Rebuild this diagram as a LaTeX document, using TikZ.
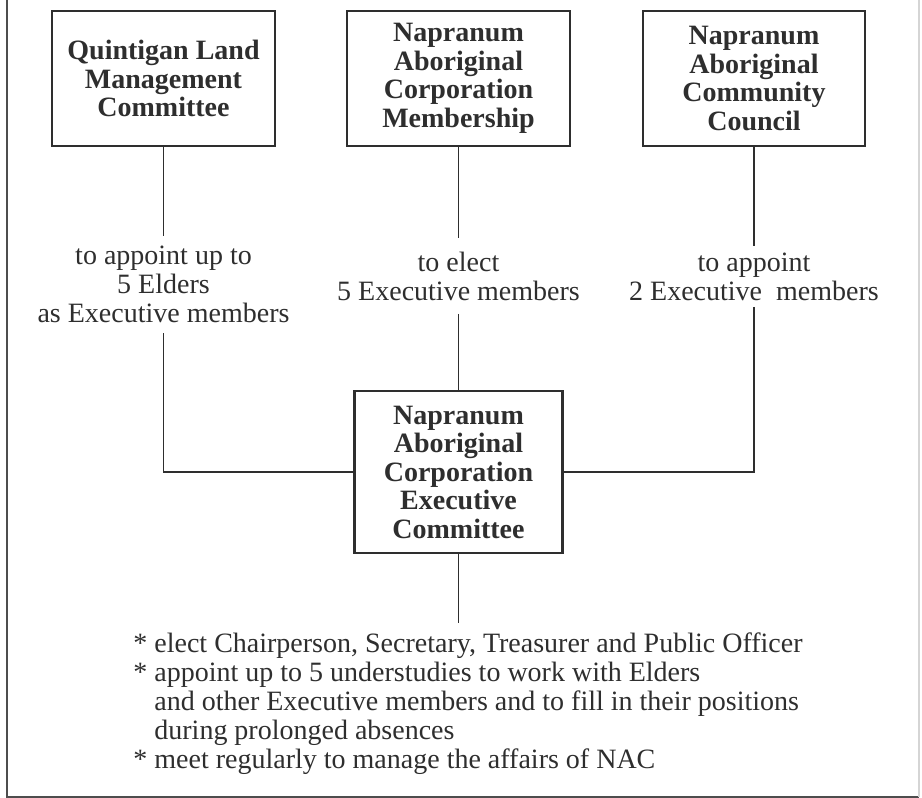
\documentclass[tikz,border=0pt]{standalone}
\usepackage{fontspec}
\setmainfont{Liberation Serif}
\usetikzlibrary{positioning}
\definecolor{ink}{HTML}{2E2E2E}

\begin{document}
\begin{tikzpicture}[x=0.5pt, y=-0.5pt,
    Body/.style={rectangle, draw=ink, text=ink, line width=1.4pt, align=center, inner sep=0pt,
      font=\fontsize{14}{14.25}\selectfont\bfseries},
    Role/.style={align=center, text=ink, inner xsep=2pt, inner ysep=5pt,
      font=\fontsize{14}{14.5}\selectfont},
    Link/.style={draw=ink, line width=0.75pt}]
        \useasboundingbox (0,0) rectangle (922,798);
        \draw[ink!85, line width=0.8pt] (7,0) -- (7,797) -- (919,797);
        \draw[ink!20, line width=0.6pt] (919,0) -- (919,797);
        \node[Body, minimum width=111.5pt, minimum height=67.5pt] (Quintigan) at (163.5,78.5) {Quintigan Land\\Management\\Committee};
        \node[Body, minimum width=111.5pt, minimum height=67.5pt] (Membership) at (458.5,78.5) {Napranum\\Aboriginal\\Corporation\\Membership};
        \node[Body, minimum width=111pt, minimum height=67.5pt] (Council) at (754,78.5) {Napranum\\Aboriginal\\Community\\Council};
        \node[Body, minimum width=104pt, minimum height=81pt] (Executive) at (458.5,472) {Napranum\\Aboriginal\\Corporation\\Executive\\Committee};
        \node[Role] (AppointElders) at (163.5,284.5) {to appoint up to\\5 Elders\\as Executive members};
        \node[Role, inner ysep=6.5pt] (ElectMembers) at (458.5,276) {to elect\\5 Executive members};
        \node[Role, inner ysep=3pt] (AppointMembers) at (754,276.5) {to appoint\\2 Executive~ members};
        \node[align=left, text=ink, inner xsep=0pt, inner ysep=4.5pt, anchor=north west,
          font=\fontsize{14}{14.5}\selectfont] (Duties) at (133,623)
          {* elect Chairperson, Secretary, Treasurer and Public Officer\\
           * appoint up to 5 understudies to work with Elders\\
           \hphantom{* }and other Executive members and to fill in their positions\\
           \hphantom{* }during prolonged absences\\
           * meet regularly to manage the affairs of NAC};
        \draw[Link] (Quintigan) -- (AppointElders);
        \draw[Link] (AppointElders) |- (Executive);
        \draw[Link] (Membership) -- (ElectMembers);
        \draw[Link] (ElectMembers) -- (Executive);
        \draw[Link] (Council) -- (AppointMembers);
        \draw[Link] (AppointMembers) |- (Executive);
        \draw[Link] (Executive) -- (Executive |- Duties.north);
    \end{tikzpicture}
\end{document}
